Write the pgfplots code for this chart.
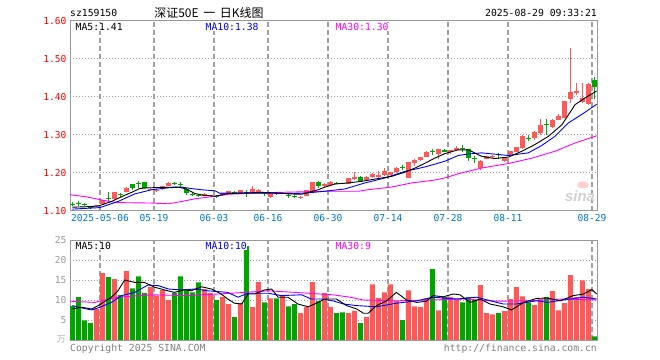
\documentclass[border=0pt]{standalone}
\usepackage{pgfplots}
\pgfplotsset{compat=1.18}
\usepackage{pgfplotstable}
\usepackage{fontspec}
\setmainfont{DejaVu Sans Mono}
\newfontfamily\cjk{Noto Sans CJK SC}
\newfontfamily\sinafont{Liberation Sans}
\definecolor{cred}{RGB}{255,88,88}
\definecolor{cgreen}{RGB}{0,165,0}
\definecolor{cblue}{RGB}{0,0,255}
\definecolor{cmag}{RGB}{255,0,255}
\definecolor{dlab}{RGB}{0,119,204}
\definecolor{gridc}{RGB}{160,160,160}
\definecolor{vgridc}{RGB}{160,160,160}
\definecolor{framec}{RGB}{153,153,153}

\pgfplotstableread{
i o h l c v
4 1.112 1.116 1.111 1.115 7.75
5 1.119 1.129 1.118 1.128 16.7
7 1.131 1.150 1.130 1.149 15.2
9 1.151 1.163 1.150 1.160 17.2
13 1.156 1.161 1.154 1.159 13.2
14 1.152 1.158 1.150 1.156 11.1
15 1.158 1.167 1.155 1.166 12.5
16 1.166 1.176 1.165 1.174 10.0
22 1.140 1.148 1.139 1.146 12.75
23 1.139 1.142 1.136 1.141 11.7
25 1.141 1.148 1.140 1.147 10.8
26 1.145 1.153 1.144 1.152 9.0
28 1.147 1.155 1.146 1.154 9.2
30 1.147 1.165 1.146 1.158 8.25
31 1.147 1.158 1.146 1.154 14.5
33 1.137 1.150 1.135 1.149 10.4
35 1.146 1.150 1.144 1.148 11.3
38 1.134 1.139 1.132 1.138 6.75
39 1.140 1.155 1.139 1.154 8.2
40 1.149 1.176 1.148 1.175 14.5
42 1.165 1.173 1.164 1.172 11.75
43 1.168 1.178 1.167 1.177 8.3
46 1.172 1.188 1.171 1.187 6.7
47 1.184 1.202 1.182 1.189 7.3
49 1.182 1.191 1.181 1.190 5.7
50 1.189 1.201 1.188 1.197 13.9
51 1.189 1.204 1.188 1.196 10.5
52 1.196 1.214 1.192 1.206 11.9
53 1.196 1.203 1.195 1.202 13.9
54 1.202 1.216 1.201 1.214 9.8
56 1.188 1.230 1.187 1.228 12.4
57 1.226 1.238 1.218 1.235 8.4
58 1.233 1.243 1.232 1.242 8.2
59 1.242 1.257 1.241 1.256 10.4
61 1.251 1.264 1.237 1.263 7.4
63 1.256 1.261 1.251 1.260 10.7
64 1.261 1.270 1.260 1.267 10.25
68 1.213 1.233 1.207 1.232 13.7
69 1.237 1.245 1.236 1.244 6.7
70 1.241 1.247 1.240 1.246 6.4
72 1.231 1.240 1.228 1.239 7.2
73 1.248 1.258 1.247 1.257 10.2
74 1.256 1.269 1.255 1.268 13.2
75 1.266 1.299 1.264 1.297 10.9
77 1.291 1.310 1.288 1.307 8.7
78 1.305 1.343 1.301 1.327 10.2
80 1.321 1.341 1.319 1.340 12.2
81 1.340 1.356 1.339 1.349 7.4
82 1.345 1.390 1.344 1.389 9.2
83 1.395 1.528 1.384 1.412 16.2
84 1.411 1.437 1.406 1.415 10.7
85 1.386 1.437 1.384 1.397 14.9
86 1.382 1.437 1.380 1.435 12.7
}\redc

\pgfplotstableread{
i o h l c v
0 1.119 1.123 1.112 1.117 8.5
1 1.121 1.125 1.114 1.119 10.7
2 1.118 1.121 1.112 1.116 4.9
3 1.111 1.112 1.106 1.108 4.2
6 1.135 1.150 1.125 1.133 15.7
8 1.144 1.148 1.137 1.142 11.2
10 1.171 1.172 1.156 1.161 12.9
11 1.173 1.180 1.160 1.171 15.9
12 1.176 1.176 1.160 1.161 11.7
17 1.174 1.176 1.168 1.172 11.7
18 1.171 1.176 1.162 1.169 15.9
19 1.159 1.160 1.142 1.147 12.7
20 1.144 1.147 1.139 1.142 11.9
21 1.142 1.145 1.138 1.140 14.4
24 1.140 1.142 1.134 1.138 10.0
27 1.150 1.152 1.145 1.148 5.7
29 1.150 1.155 1.137 1.148 23.5
32 1.148 1.151 1.140 1.146 9.4
34 1.148 1.150 1.143 1.146 10.4
36 1.141 1.147 1.134 1.139 8.4
37 1.140 1.142 1.134 1.138 9.0
41 1.176 1.180 1.160 1.167 9.8
44 1.174 1.175 1.171 1.172 6.7
45 1.173 1.174 1.170 1.171 6.9
48 1.190 1.191 1.177 1.178 4.2
55 1.216 1.222 1.209 1.214 5.0
60 1.257 1.263 1.248 1.255 17.7
62 1.261 1.262 1.255 1.256 10.8
65 1.265 1.274 1.255 1.263 9.4
66 1.263 1.264 1.231 1.240 10.7
67 1.239 1.244 1.226 1.237 10.0
71 1.249 1.253 1.238 1.247 6.7
76 1.293 1.301 1.283 1.291 9.4
79 1.330 1.342 1.299 1.328 10.7
87 1.446 1.452 1.395 1.426 0.9
}\greenc

\pgfplotstableread{
i v
0 1.110
2 1.111
4.3 1.113
6.5 1.125
8.4 1.139
10 1.150
11.2 1.159
12.6 1.161
17.6 1.163
19 1.158
20.4 1.146
22 1.141
23.8 1.139
26 1.146
31.6 1.149
34.9 1.147
36 1.145
38.2 1.144
39.6 1.150
41 1.156
42.1 1.163
43.8 1.171
46 1.174
48.2 1.178
50.4 1.184
53.2 1.191
55.4 1.202
57.1 1.213
58.8 1.226
60.4 1.239
62.1 1.251
64.3 1.261
66 1.261
68.2 1.244
70.4 1.238
72.7 1.242
74.9 1.257
77.1 1.275
79.3 1.296
81.6 1.327
83.8 1.380
85.4 1.397
87.4 1.416
}\pmaA

\pgfplotstableread{
i v
0 1.105
4.6 1.109
7.6 1.125
10.4 1.145
13.2 1.156
16 1.161
18.2 1.163
19.8 1.159
21.5 1.156
23.8 1.153
24.5 1.147
27.1 1.147
31.6 1.147
36.6 1.146
38.8 1.147
42.1 1.152
45.4 1.158
48.8 1.174
52.1 1.187
55.4 1.204
58.8 1.216
62.1 1.231
64.3 1.246
66 1.250
68.2 1.253
72.7 1.246
76 1.253
78.2 1.272
80.4 1.296
82.7 1.332
84.9 1.354
87.4 1.381
}\pmaB

\pgfplotstableread{
i v
-0.4 1.143
2.4 1.137
4.6 1.130
6.5 1.124
8 1.122
13 1.121
16 1.119
18.2 1.125
20.4 1.132
23.8 1.139
26 1.144
31.6 1.148
37 1.150
42.7 1.152
47.7 1.152
49.3 1.156
53.2 1.163
56.6 1.174
60.2 1.181
62.1 1.187
64.3 1.198
68.2 1.213
72.7 1.225
76.6 1.239
80.4 1.257
83.8 1.279
87.4 1.298
}\pmaC

\pgfplotstableread{
i v
0 7.75
1.5 8.2
3.2 7.75
4.3 8.6
6.5 10.7
7.6 12.3
8.7 15
10.4 14.4
12 14.4
13.7 13.2
15.4 12.5
17 11.9
18.7 12.6
19.8 12.3
21.5 13.3
23.2 12.75
24.8 11.5
25.9 10.25
27 9.2
28.2 9
29.3 11.5
30.4 11.5
32 12.5
33.2 12.75
34.3 10.7
35.9 10.7
37.6 9
39.3 8.3
41 9.4
42 10.25
44 10.25
45.7 8.6
47.4 7.75
48.5 6.7
49.3 6.7
50.7 8.6
52.4 9.8
54 11.9
55.7 10
57.4 9.4
59 9.7
60.1 11.1
61.8 10.8
63.5 11.5
64.6 11.3
66.3 9.4
68 10.25
69.6 9
71.8 8.3
73.2 7.5
75.2 9.4
77.4 10.4
79.2 10.5
81.3 9.8
83.5 11.1
85.2 11.5
86.6 12.6
87.4 11.5
}\vmaA

\pgfplotstableread{
i v
0 8.6
1 8.2
3.2 7.5
4.8 8.3
6.5 9.4
8.2 11.1
10.4 11.9
12.6 13.75
14.3 13.6
16 12.75
18.2 12.5
20.4 12.75
22.6 12.3
25.9 11.9
27.6 10.7
29.3 11.7
32.6 11.7
34.8 11.1
38.2 11.3
39.8 10.25
41.5 10.25
43.4 9.8
45.2 9
47.4 8.6
50.7 8.3
54 9.2
57.4 9.8
60.1 10.7
64.1 10.25
67.4 10.7
69.2 10
71.8 9
74 9
77.4 9.8
79.2 9.4
81.8 10
85.2 10.7
87.4 10.25
}\vmaB

\pgfplotstableread{
i v
-0.4 9.7
3.7 9.4
7.6 10.7
13.2 11.3
18.7 11.1
24.3 11.5
28.7 11.9
32.6 12.3
37.1 11.9
43.4 11.3
46.3 10.7
48.5 10
54 9.8
59.6 10
65.2 10.25
70.7 9.7
76.3 9.8
81.8 10.25
87.4 10
}\vmaC

\pgfplotsset{
  kbase/.style={
    scale only axis, width=527bp, anchor=south west,
    xmin=-0.4, xmax=87.45,
    axis line style={framec, line width=1bp},
    major tick length=0pt,
    xtick={4.6,13.6,23.6,32.6,42.6,52.6,62.6,72.6,86.6},
    xmajorgrids, ymajorgrids,
    x grid style={color=vgridc, line width=1.2bp, dash pattern=on 5bp off 3bp},
    y grid style={color=gridc, line width=1bp, dash pattern=on 1bp off 2bp},
    tick label style={font=\fontsize{9.6}{11}\selectfont},
    /pgf/number format/assume math mode=true,
  },
  wick/.style={line width=1bp, mark=none, quiver={u=0, v=\thisrow{h}-\thisrow{l}}},
  body/.style={line width=4.5bp, mark=none, quiver={u=0, v=\thisrow{c}-\thisrow{o}}},
  vbar/.style={ybar, bar width=5bp, bar shift=0pt, draw=none},
}

\begin{document}
\begin{tikzpicture}
\path[use as bounding box] (0,0) rectangle (660bp,360bp);

\begin{axis}[kbase, at={(70bp,149bp)}, height=190bp,
  ymin=1.10, ymax=1.60, ytick={1.1,1.2,1.3,1.4,1.5,1.6},
  yticklabel style={color=red, /pgf/number format/.cd, fixed, fixed zerofill, precision=2},
  xticklabels={2025-05-06,05-19,06-03,06-16,06-30,07-14,07-28,08-11,08-29},
  xticklabel style={color=dlab}]
\addplot[cred, wick] table[x=i, y=l] {\redc};
\addplot[cgreen, wick] table[x=i, y=l] {\greenc};
\addplot[cred, body] table[x=i, y=o] {\redc};
\addplot[cgreen, body] table[x=i, y=o] {\greenc};
\addplot[cmag, line width=0.9bp, mark=none] table[x=i, y=v] {\pmaC};
\addplot[cblue, line width=0.9bp, mark=none] table[x=i, y=v] {\pmaB};
\addplot[black, line width=0.9bp, mark=none] table[x=i, y=v] {\pmaA};
\end{axis}

\begin{axis}[kbase, at={(70bp,20bp)}, height=100bp,
  ymin=0, ymax=25, ytick={5,10,15,20,25},
  yticklabel style={color=framec},
  xticklabels={}]
\addplot[vbar, fill=cred] table[x=i, y=v] {\redc};
\addplot[vbar, fill=cgreen] table[x=i, y=v] {\greenc};
\addplot[cmag, line width=0.9bp, mark=none] table[x=i, y=v] {\vmaC};
\addplot[cblue, line width=0.9bp, mark=none] table[x=i, y=v] {\vmaB};
\addplot[black, line width=0.9bp, mark=none] table[x=i, y=v] {\vmaA};
\end{axis}

\begin{scope}[every node/.style={inner sep=0pt, font=\fontsize{9.8}{11}\selectfont}]
\node[anchor=west] at (70bp,347bp) {sz159150};
\node at (209bp,347bp) {\cjk\fontsize{12}{13}\selectfont 深证50E\, 一\, 日K线图};
\node[anchor=east] at (597bp,347bp) {2025-08-29 09:33:21};
\node[anchor=west, fill=white, inner sep=0.5bp] at (75bp,333bp) {MA5:1.41};
\node[anchor=west, text=cblue, fill=white, inner sep=0.5bp] at (205bp,333bp) {MA10:1.38};
\node[anchor=west, text=cmag, fill=white, inner sep=0.5bp] at (335bp,333bp) {MA30:1.30};
\node[anchor=west, fill=white, inner sep=0.5bp] at (75bp,114bp) {MA5:10};
\node[anchor=west, text=cblue, fill=white, inner sep=0.5bp] at (205bp,114bp) {MA10:10};
\node[anchor=west, text=cmag, fill=white, inner sep=0.5bp] at (335bp,114bp) {MA30:9};
\node[anchor=west, text=gray] at (70bp,11bp) {Copyright 2025 SINA.COM};
\node[anchor=east, text=gray] at (597bp,11bp) {http://finance.sina.com.cn};
\node[anchor=east, text=gray!60] at (66bp,21bp) {\cjk\fontsize{9}{9}\selectfont 万};
\node[text=gray!35] at (580bp,164bp) {\sinafont\bfseries\itshape\fontsize{15}{15}\selectfont sina};
\end{scope}
\fill[red!18] (583bp,175bp) ellipse (6bp and 3.5bp);
\end{tikzpicture}
\end{document}
